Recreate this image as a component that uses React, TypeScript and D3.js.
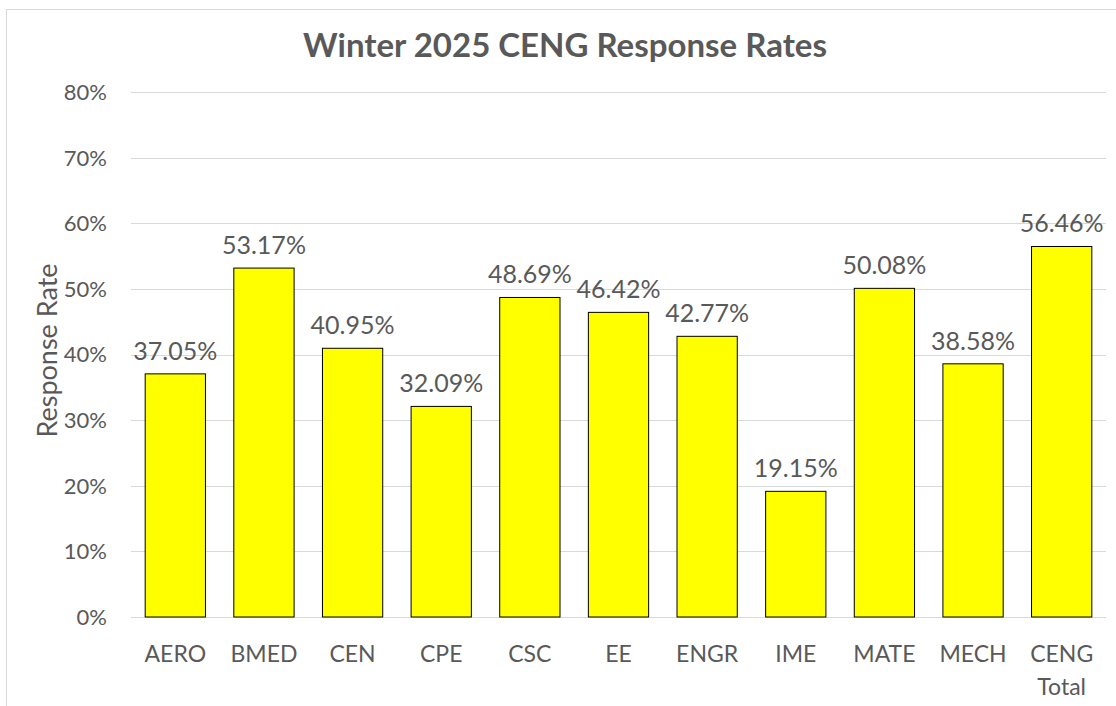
import React from "react";
import * as d3 from "d3";

const categories = ["AERO", "BMED", "CEN", "CPE", "CSC", "EE", "ENGR", "IME", "MATE", "MECH", "CENG Total"];
const values = [37.05, 53.17, 40.95, 32.09, 48.69, 46.42, 42.77, 19.15, 50.08, 38.58, 56.46];
const yTicks = [0, 10, 20, 30, 40, 50, 60, 70, 80];
const title = "Winter 2025 CENG Response Rates";
const yLabel = "Response Rate";

const W = 1116, H = 706;
const plot = { left: 131, right: 1106, top: 92, bottom: 617 };
const font = "Lato, 'Open Sans', sans-serif";
const textColor = "#595959";

export default function App() {
  const x = d3.scaleBand<string>().domain(categories).range([plot.left, plot.right]).paddingInner(0.32).paddingOuter(0.16);
  const y = d3.scaleLinear().domain([0, 80]).range([plot.bottom, plot.top]);
  return (
    <svg width={W} height={H} style={{ position: "fixed", left: 0, top: 0, background: "#fff" }} fontFamily={font}>
      <rect x={6.5} y={9.5} width={W + 10} height={H + 10} fill="#fff" stroke="#d9d9d9" strokeWidth={1} />
      <text x={565} y={57} textAnchor="middle" fontSize={33} fontWeight="bold" fill={textColor}>{title}</text>
      {yTicks.map((t) => (
        <g key={t}>
          <line x1={plot.left} x2={plot.right} y1={Math.round(y(t)) + 0.5} y2={Math.round(y(t)) + 0.5} stroke="#d9d9d9" strokeWidth={1} />
          <text x={107} y={y(t)} dy="0.36em" textAnchor="end" fontSize={22} fill={textColor}>{t}%</text>
        </g>
      ))}
      <text transform={`translate(57, ${(268 + 433) / 2}) rotate(-90)`} textAnchor="middle" fontSize={27} fill={textColor}>{yLabel}</text>
      {categories.map((c, i) => {
        const bx = x(c)!;
        const bw = x.bandwidth();
        const v = values[i];
        const cx = bx + bw / 2;
        const lines = c.split(" ");
        return (
          <g key={c}>
            <rect x={bx} y={y(v)} width={bw} height={plot.bottom - y(v)} fill="#ffff00" stroke="#000" strokeWidth={1} />
            <text x={cx} y={y(v) - 14} textAnchor="middle" fontSize={25} fill={textColor}>{v.toFixed(2)}%</text>
            {lines.map((l, j) => (
              <text key={j} x={cx} y={662 + j * 33} textAnchor="middle" fontSize={23} fill={textColor}>{l}</text>
            ))}
          </g>
        );
      })}
    </svg>
  );
}
